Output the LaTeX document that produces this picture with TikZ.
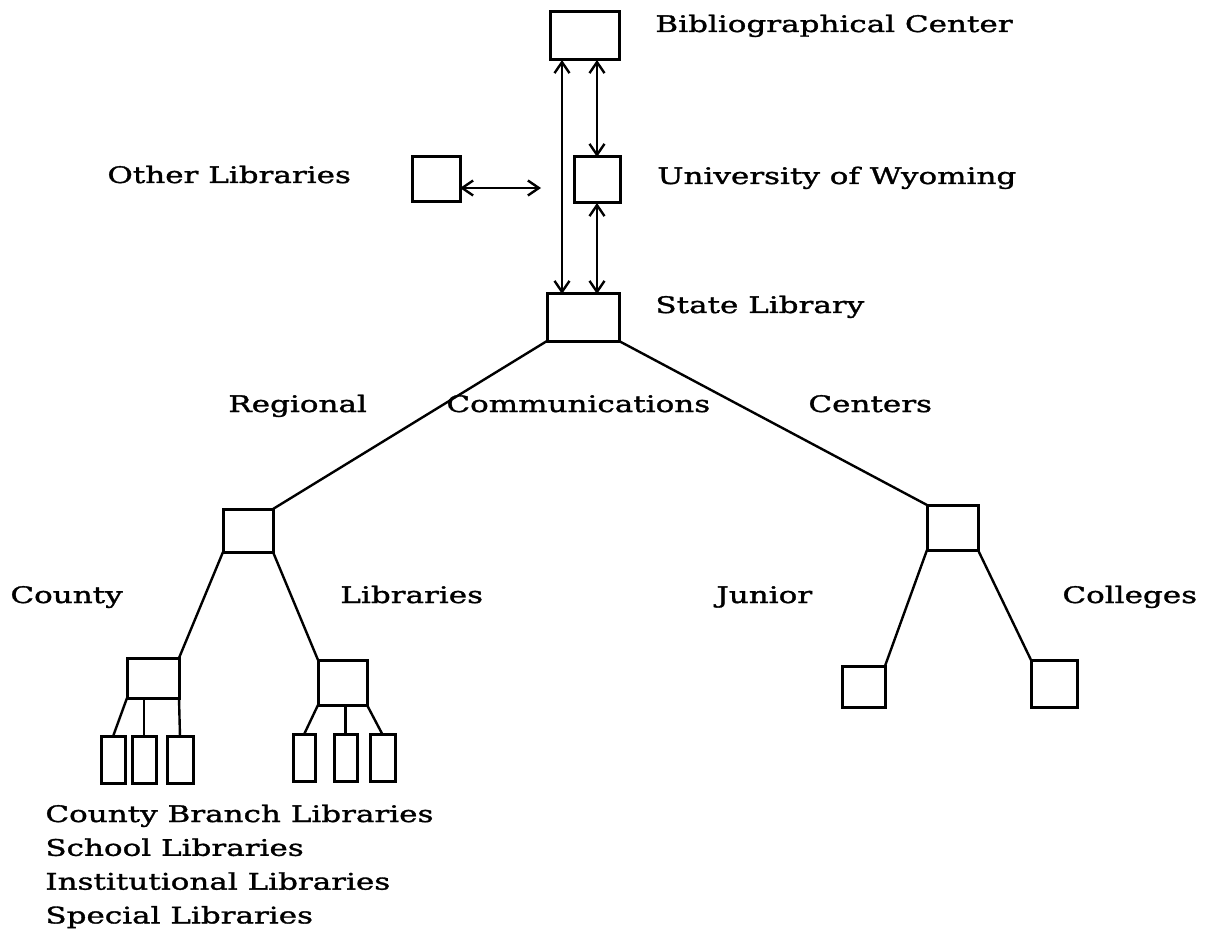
\documentclass[tikz,border=0pt]{standalone}
\usepackage{fontspec}
\setmainfont{DejaVu Serif}[FakeStretch=1.36, FakeBold=1.4]
\usetikzlibrary{arrows.meta}

\tikzset{
  box/.style={draw, line width=1.5pt, inner sep=0pt, outer sep=0pt},
  link/.style={line width=1.2pt},
  twoway/.style={link, {Straight Barb[length=5.5pt,width=7.5pt]}-{Straight Barb[length=5.5pt,width=7.5pt]}},
  label/.style={anchor=base west, inner sep=0pt, font=\fontsize{11.4}{13}\selectfont}
}

\begin{document}
\begin{tikzpicture}[x=0.5pt,y=-0.5pt]
\useasboundingbox (0,0) rectangle (1210,941);

% main boxes
\node[box, minimum width=34.5pt, minimum height=24pt] (bib) at (584.5,36) {};
\node[box, minimum width=23pt, minimum height=23pt] (uw) at (597,180) {};
\node[box, minimum width=24pt, minimum height=22.5pt] (other) at (436,179.5) {};
\node[box, minimum width=36pt, minimum height=23.5pt] (state) at (583,317.5) {};
\node[box, minimum width=25pt, minimum height=21.5pt] (reg) at (248,530.5) {};
\node[box, minimum width=25.5pt, minimum height=22.5pt] (jc) at (952.5,527.5) {};
\node[box, minimum width=26pt, minimum height=20pt] (cl) at (153,678) {};
\node[box, minimum width=24.5pt, minimum height=22.5pt] (cr) at (342.5,682.5) {};
\node[box, minimum width=21.5pt, minimum height=20.5pt] (jl) at (863.5,686.5) {};
\node[box, minimum width=23pt, minimum height=23.5pt] (jr) at (1054,683.5) {};

% branch boxes
\foreach \name/\x/\y/\w in {s1/113/760/12, s2/144/760/12, s3/180/760/13,
                            s4/304/758/11, s5/345.5/758/11.5, s6/382.5/758/12.5}
{
    \node[box, minimum width=\w pt, minimum height=23.5pt] (\name) at (\x,\y) {};
}

% arrows
\coordinate (trunk) at (562,0);
\coordinate (otherend) at (541,188);
\draw[twoway] (bib.south -| trunk) -- (state.north -| trunk);
\draw[twoway] (bib.south -| uw.north) -- (uw.north);
\draw[twoway] (uw.south) -- (state.north -| uw.south);
\draw[twoway] (other.east |- otherend) -- (otherend);

% tree
\draw[link] (state.south west) -- (reg.north east);
\draw[link] (state.south east) -- (jc.north west);
\draw[link] (reg.south west) -- (cl.north east);
\draw[link] (reg.south east) -- (cr.north west);
\draw[link] (jc.south west) -- (jl.north east);
\draw[link] (jc.south east) -- (jr.north west);
\draw[link] (cl.south west) -- (s1.north);
\draw[link] (s2.north |- cl.south) -- (s2.north);
\draw[link] (cl.south east) -- (s3.north);
\draw[link] (cr.south west) -- (s4.north);
\draw[link] (s5.north |- cr.south) -- (s5.north);
\draw[link] (cr.south east) -- (s6.north);

% labels
\node[label] (tbib) at (655,32) {Bibliographical Center};
\node[label] (tother) at (107,183) {Other Libraries};
\node[label] (tuw) at (657,184) {University of Wyoming};
\node[label] (tstate) at (655,313) {State Library};
\node[label] (treg) at (228,412) {Regional};
\node[label] (tcomm) at (446,412) {Communications};
\node[label] (tcent) at (808,412) {Centers};
\node[label] (tcounty) at (10,603) {County};
\node[label] (tlib) at (340,603) {Libraries};
\node[label] (tjun) at (716,603) {Junior};
\node[label] (tcol) at (1062,603) {Colleges};
\foreach \txt [count=\i from 0] in {County Branch Libraries, School Libraries,
                                    Institutional Libraries, Special Libraries}
{
    \node[label] (tlist\i) at (45,822+33.8*\i) {\txt};
}

\end{tikzpicture}
\end{document}
